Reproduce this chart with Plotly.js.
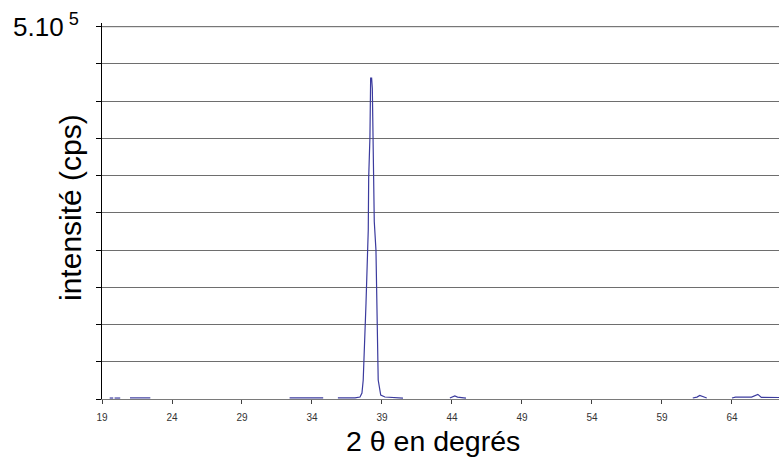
<!DOCTYPE html>
<html>
<head>
<meta charset="utf-8">
<script src="https://cdn.plot.ly/plotly-3.0.1.min.js"></script>
<style>html,body{margin:0;padding:0;background:#fff;}#chart{width:779px;height:460px;}</style>
</head>
<body>
<div id="chart"></div>
<script>
// 2θ positions (degrees) and measured intensity (cps); null = no visible trace
const twoTheta = [19.55, 19.8, 19.85, 19.9, 20.3, 20.6, 21.0, 22.45, 27.0, 32.4, 34.8, 35.3,
  35.85, 37.07, 37.43, 37.57, 37.66, 37.76, 37.86, 38.02, 38.05, 38.14, 38.19, 38.26, 38.31,
  38.34, 38.38, 38.45, 38.57, 38.62, 38.73, 38.91, 39.21, 40.5, 42.0,
  43.85, 44.05, 44.2, 44.4, 45.0, 53.0,
  61.2, 61.5, 61.7, 61.95, 62.2, 63.0,
  64.0, 64.2, 64.25, 65.4, 65.65, 65.85, 66.1, 67.4];
const intensity = [1300, 1300, null, 1300, 1300, null, 1500, 1500, null, 1400, 1400, null,
  1500, 1500, 2700, 8000, 25500, 92700, 129000, 227000, 297000, 352000, 431000, 431000, 417000,
  379000, 314000, 238000, 200000, 129000, 25500, 5400, 2700, 1300, null,
  1300, 2500, 4000, 2500, 1300, null,
  1300, 2600, 4700, 2600, 1300, null,
  1300, 1600, 2400, 2600, 4200, 6200, 2200, 2000];
const xTicks = [19, 24, 29, 34, 39, 44, 49, 54, 59, 64];
const yTicks = [0, 50000, 100000, 150000, 200000, 250000, 300000, 350000, 400000, 450000, 500000];
const yMax = 500000;
const xTitle = '2 θ en degrés';
const yTitle = 'intensité (cps)';
const yMaxLabel = '5.10<sup> 5</sup>';

const trace = {
  x: twoTheta, y: intensity, type: 'scatter', mode: 'lines',
  connectgaps: false,
  line: {color: '#3b3b9e', width: 1.2},
  hoverinfo: 'skip'
};

const layout = {
  width: 779, height: 460,
  margin: {l: 102, r: 0, t: 23, b: 61},
  paper_bgcolor: '#ffffff', plot_bgcolor: '#ffffff',
  showlegend: false,
  font: {family: 'Arial, "Liberation Sans", sans-serif', color: '#000'},
  xaxis: {
    range: [19, 67.36], tickmode: 'array', tickvals: xTicks, ticktext: xTicks.map(String),
    showgrid: false, zeroline: false, showline: true,
    linecolor: '#7a7a7a', linewidth: 1,
    ticks: 'outside', ticklen: 4, tickcolor: '#404040',
    tickfont: {size: 10, color: '#333'}, ticklabelstandoff: 5
  },
  yaxis: {
    range: [0, 505000], tickmode: 'array', tickvals: yTicks,
    showticklabels: false, showgrid: true, gridcolor: '#6e6e6e', gridwidth: 1,
    zeroline: false, showline: true, linecolor: '#000', linewidth: 1,
    ticks: 'outside', ticklen: 5, tickcolor: '#000'
  },
  shapes: [
    {type: 'line', xref: 'paper', yref: 'y', x0: 0, x1: 1, y0: yMax, y1: yMax,
     line: {color: '#7a7a7a', width: 1}, layer: 'above'}
  ],
  annotations: [
    {text: yMaxLabel, xref: 'paper', yref: 'paper',
     x: -0.1345, y: 1, xanchor: 'left', yanchor: 'middle', yshift: -2,
     showarrow: false, font: {size: 26, color: '#000'}},
    {text: xTitle, xref: 'paper', yref: 'paper',
     x: 0.489, y: -0.1117, xanchor: 'center', yanchor: 'middle',
     showarrow: false, font: {size: 28.5, color: '#000'}},
    {text: yTitle, xref: 'paper', yref: 'paper', textangle: -90,
     x: -0.0473, y: 0.5106, xanchor: 'center', yanchor: 'middle',
     showarrow: false, font: {size: 30, color: '#000'}}
  ]
};

Plotly.newPlot('chart', [trace], layout, {displayModeBar: false, staticPlot: true});
</script>
</body>
</html>
